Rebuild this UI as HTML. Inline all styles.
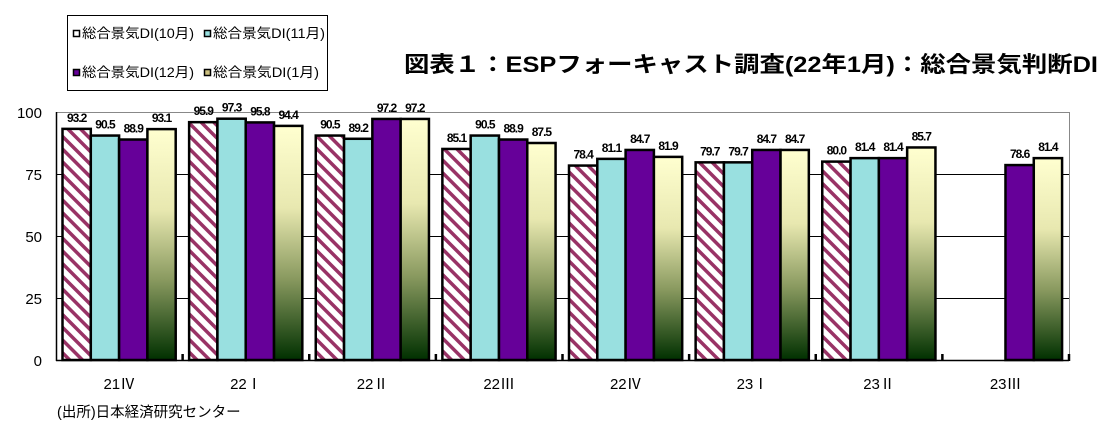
<!DOCTYPE html>
<html><head><meta charset="utf-8"><style>
html,body{margin:0;padding:0;background:#fff;}
svg{display:block;}
</style></head><body>
<svg width="1120" height="439" viewBox="0 0 1120 439" xmlns="http://www.w3.org/2000/svg" font-family="'Liberation Sans','Noto Sans CJK JP',sans-serif">
<defs>
<pattern id="hatch" patternUnits="userSpaceOnUse" width="9" height="9" patternTransform="rotate(-45)">
<rect width="9" height="9" fill="#fff"/><rect width="3.5" height="9" fill="#993366"/>
</pattern>
<linearGradient id="grad" x1="0" y1="0" x2="0" y2="1">
<stop offset="0" stop-color="#ffffd0"/>
<stop offset="0.35" stop-color="#e8e8b0"/>
<stop offset="0.65" stop-color="#8a9a60"/>
<stop offset="1" stop-color="#003000"/>
</linearGradient>
</defs>
<rect x="67.5" y="15.5" width="260" height="75" fill="#fff" stroke="#000"/>
<g font-size="13.5">
<rect x="73.5" y="30.5" width="6" height="6" fill="#fff" stroke="#000" stroke-width="1.5"/>
<text x="82" y="38" textLength="112" lengthAdjust="spacingAndGlyphs">総合景気DI(10月)</text>
<rect x="204.5" y="30.5" width="6" height="6" fill="#99e0e0" stroke="#000" stroke-width="1.5"/>
<text x="213" y="38" textLength="112" lengthAdjust="spacingAndGlyphs">総合景気DI(11月)</text>
<rect x="73.5" y="69.5" width="6" height="6" fill="#660099" stroke="#000" stroke-width="1.5"/>
<text x="82" y="77" textLength="112" lengthAdjust="spacingAndGlyphs">総合景気DI(12月)</text>
<rect x="204.5" y="69.5" width="6" height="6" fill="#ccc080" stroke="#000" stroke-width="1.5"/>
<text x="213" y="77" textLength="106" lengthAdjust="spacingAndGlyphs">総合景気DI(1月)</text>
</g>
<text x="404" y="72" font-size="22" font-weight="bold" textLength="694" lengthAdjust="spacingAndGlyphs">図表１：ESPフォーキャスト調査(22年1月)：総合景気判断DI</text>
<rect x="56.5" y="112.5" width="1013" height="248" fill="#fff" stroke="#888"/>
<g stroke="#000" stroke-width="1">
<line x1="56" y1="174.5" x2="1069" y2="174.5"/>
<line x1="56" y1="236.5" x2="1069" y2="236.5"/>
<line x1="56" y1="298.5" x2="1069" y2="298.5"/>
</g>
<g font-size="15" text-anchor="end" fill="#000">
<text x="42" y="118">100</text>
<text x="42" y="180">75</text>
<text x="42" y="242">50</text>
<text x="42" y="304">25</text>
<text x="42" y="366">0</text>
</g>
<g id="bars" stroke="#000" stroke-width="2.5"></g>
<g id="labels" font-size="12" font-weight="bold" text-anchor="middle" letter-spacing="-1"></g>
<line x1="56" y1="360.5" x2="1069" y2="360.5" stroke="#000" stroke-width="1.5"/>
<line x1="56.5" y1="112" x2="56.5" y2="361" stroke="#000" stroke-width="1.5"/>
<g font-size="15" text-anchor="middle" id="cats"></g>
<text x="57" y="417" font-size="14.5">(出所)日本経済研究センター</text>
<script>
var d=[[93.2,90.5,88.9,93.1],[95.9,97.3,95.8,94.4],[90.5,89.2,97.2,97.2],[85.1,90.5,88.9,87.5],[78.4,81.1,84.7,81.9],[79.7,79.7,84.7,84.7],[80.0,81.4,81.4,85.7],[null,null,78.6,81.4]];
var cats=["21Ⅳ","22Ⅰ","22Ⅱ","22Ⅲ","22Ⅳ","23Ⅰ","23Ⅱ","23Ⅲ"];
var fills=["url(#hatch)","#99e0e0","#660099","url(#grad)"];
var ns="http://www.w3.org/2000/svg";
var B=document.getElementById("bars"),L=document.getElementById("labels"),C=document.getElementById("cats");
var gw=1013/8,bw=28.3;
for(var g=0;g<8;g++){
 var x0=56+g*gw+6.5;
 for(var s=0;s<4;s++){
  var v=d[g][s]; if(v==null) continue;
  var x=x0+s*bw, y=360-v*2.48;
  var r=document.createElementNS(ns,"rect");
  r.setAttribute("x",x);r.setAttribute("y",y);r.setAttribute("width",bw);r.setAttribute("height",360-y);
  r.setAttribute("fill",fills[s]);B.appendChild(r);
  var t=document.createElementNS(ns,"text");
  t.setAttribute("x",x+bw/2);t.setAttribute("y",Math.max(y-7,108));
  t.textContent=v.toFixed(1);L.appendChild(t);
 }
 var tk=document.createElementNS(ns,"line");
 var tx=56+(g+1)*gw;
 tk.setAttribute("x1",tx);tk.setAttribute("x2",tx);tk.setAttribute("y1",354);tk.setAttribute("y2",361);tk.setAttribute("stroke","#000");B.appendChild(tk);
 var c=document.createElementNS(ns,"text");
 c.setAttribute("x",56+g*gw+gw/2);c.setAttribute("y",389);c.textContent=cats[g];C.appendChild(c);
}
</script>
</svg>
</body></html>
